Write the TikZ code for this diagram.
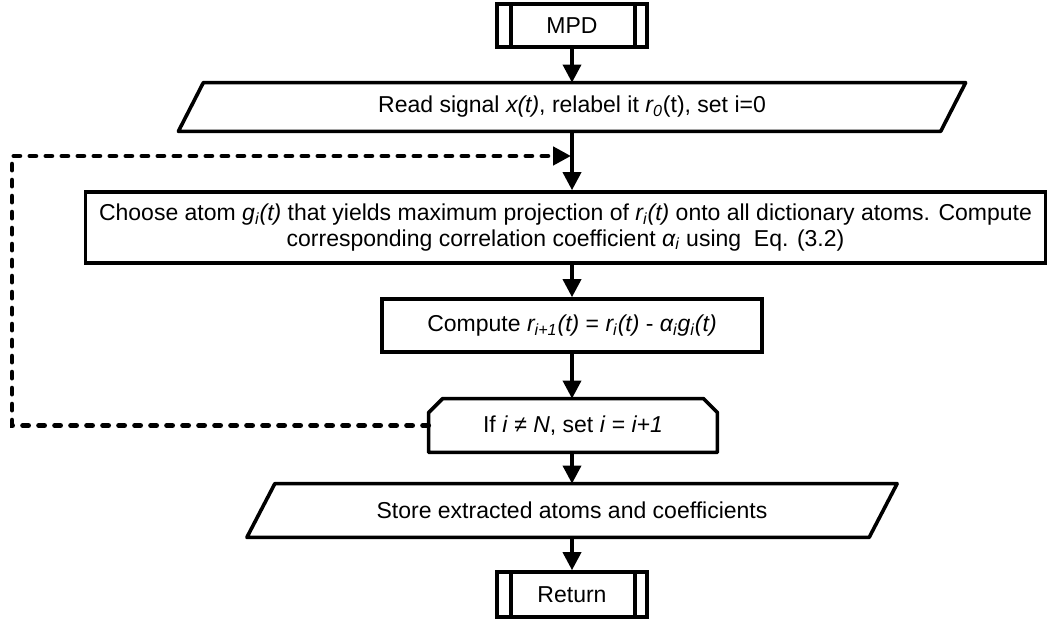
\documentclass[tikz,border=0pt]{standalone}
\usepackage{fontspec}
\setmainfont{Liberation Sans}
\usetikzlibrary{arrows.meta,calc}
\newcommand{\sbs}[1]{\textsubscript{#1}}
\begin{document}
\begin{tikzpicture}[x=0.5pt,y=-0.5pt,
  font=\fontsize{11.5}{12.8}\selectfont,
  lw/.style={line width=1.8pt},
  plain/.style={inner sep=0pt, align=center},
  boxnode/.style={plain, draw, lw},
  arr/.style={lw, -{Triangle[length=9pt,width=9pt]}},
  dasharr/.style={line width=2.4pt, line cap=round, dash pattern=on 3pt off 5pt, -{Triangle[length=9pt,width=9pt]}},
  termbox/.style={boxnode, minimum width=75pt},
]
\useasboundingbox (0,0) rectangle (1047,624);

% terminal MPD
\node[termbox, minimum height=21.5pt] (mpd) at (572,25.5) {MPD};
\draw[lw] ([xshift=8pt]mpd.north west) -- ([xshift=8pt]mpd.south west);
\draw[lw] ([xshift=-7pt]mpd.north east) -- ([xshift=-7pt]mpd.south east);

% input parallelogram
\node[plain, minimum width=380.75pt, minimum height=24pt] (p1) at (572,107)
  {Read signal \textit{x(t)}, relabel it \textit{r\sbs{0}}(t), set i=0};
\draw[lw, line join=round] ([xshift=6.25pt]p1.north west) -- ([xshift=6.25pt]p1.north east)
  -- ([xshift=-6.25pt]p1.south east) -- ([xshift=-6.25pt]p1.south west) -- cycle;

% big process box
\node[boxnode, minimum width=480pt, minimum height=35.5pt] (big) at (565.5,227.5)
  {Choose atom \textit{g\sbs{i}(t)} that yields maximum projection of \textit{r\sbs{i}(t)} onto all dictionary atoms. Compute\\
   corresponding correlation coefficient \textit{α\sbs{i}} using\ \ Eq. (3.2)};

% compute box
\node[boxnode, minimum width=190pt, minimum height=26.5pt] (comp) at (572,325.5)
  {Compute \textit{r\sbs{i+1}(t)} = \textit{r\sbs{i}(t)} - \textit{α\sbs{i}g\sbs{i}(t)}};

% loop-limit box
\node[plain, minimum width=144pt, minimum height=26.5pt] (ifb) at (573,425.5)
  {If \textit{i} ≠ \textit{N}, set \textit{i} = \textit{i+1}};
\draw[lw, line join=round] (ifb.south west) -- ([yshift=-7pt]ifb.north west) -- ([xshift=7pt]ifb.north west)
  -- ([xshift=-7pt]ifb.north east) -- ([yshift=-7pt]ifb.north east) -- (ifb.south east) -- cycle;

% output parallelogram
\node[plain, minimum width=310.75pt, minimum height=26.5pt] (p2) at (572,510.5)
  {Store extracted atoms and coefficients};
\draw[lw, line join=round] ([xshift=7pt]p2.north west) -- ([xshift=7pt]p2.north east)
  -- ([xshift=-7pt]p2.south east) -- ([xshift=-7pt]p2.south west) -- cycle;

% terminal Return
\node[termbox, minimum height=22.5pt] (ret) at (572,594.5) {Return};
\draw[lw] ([xshift=8pt]ret.north west) -- ([xshift=8pt]ret.south west);
\draw[lw] ([xshift=-7pt]ret.north east) -- ([xshift=-7pt]ret.south east);

% connectors
\coordinate (merge) at (571,156);
\coordinate (lc) at (12,156);
\draw[arr] (mpd.south) -- (mpd.south |- p1.north);
\draw[arr] (p1.south) -- (p1.south |- big.north);
\draw[arr] (comp.north |- big.south) -- (comp.north);
\draw[arr] (comp.south) -- (comp.south |- ifb.north);
\draw[arr] (comp.south |- ifb.south) -- (comp.south |- p2.north);
\draw[arr] (p2.south) -- (ret.north);
\draw[dasharr] (ifb.west) -- (lc |- ifb.west) -- (lc) -- (merge);
\end{tikzpicture}
\end{document}
